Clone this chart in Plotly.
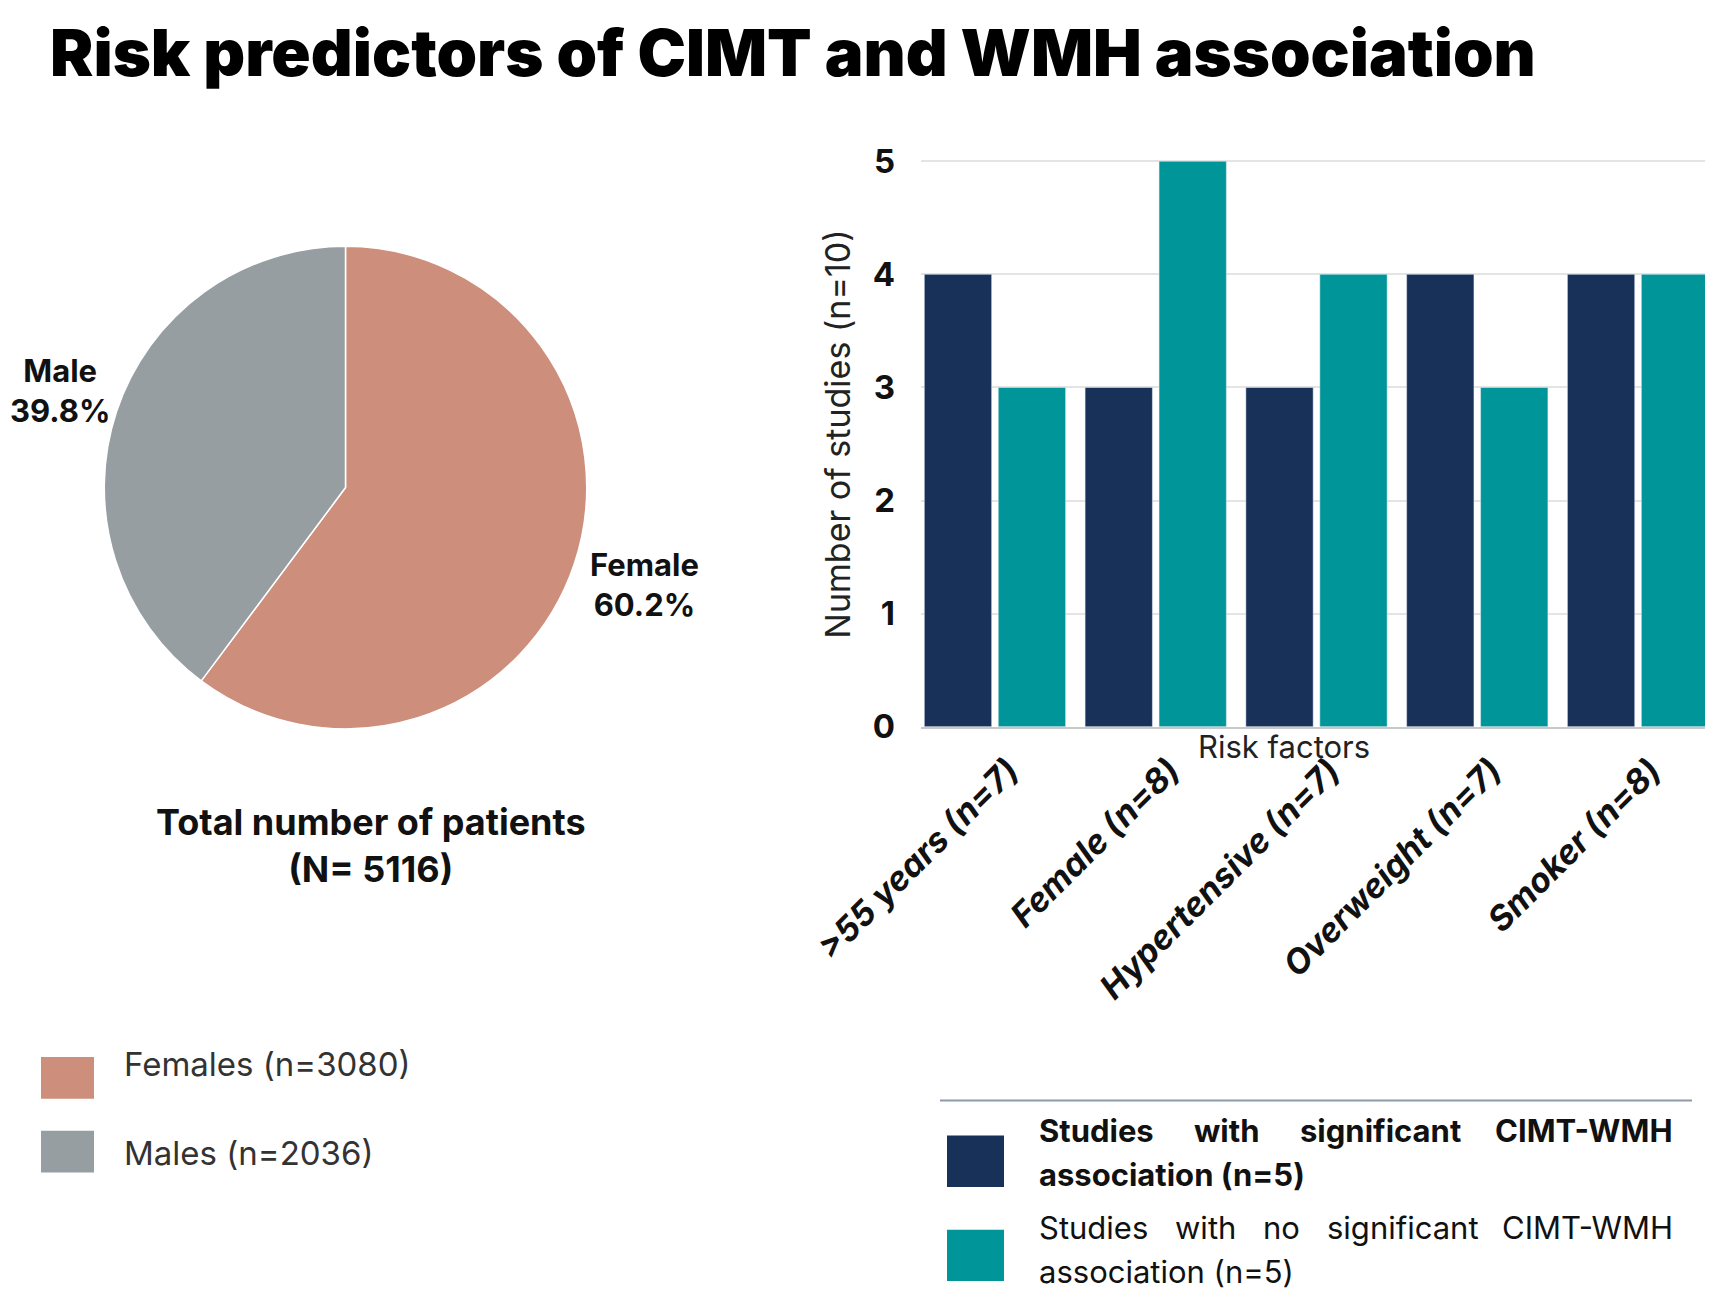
import plotly.graph_objects as go

W, H = 1713, 1297

# pie data
sexes = ['Female', 'Male']
patients = [3080, 2036]
sex_colors = ['#CD8E7B', '#979EA2']
sex_legend = ['Females (n=3080)', 'Males (n=2036)']

# bar data
factors = ['>55 years (n=7)', 'Female (n=8)', 'Hypertensive (n=7)',
           'Overweight (n=7)', 'Smoker (n=8)']
significant = [4, 3, 3, 4, 4]
not_significant = [3, 5, 4, 3, 4]

NAVY = '#173158'
TEAL = '#009599'
FONT = 'Inter, Open Sans, sans-serif'


def px(x):
    return x / W


def py(y):
    return 1 - y / H


def label(x, y, text, size, weight=400, color='#111', xa='center', ya='middle', **kw):
    return dict(x=px(x), y=py(y), xref='paper', yref='paper', showarrow=False,
                xanchor=xa, yanchor=ya, text=text,
                font=dict(size=size, weight=weight, color=color), **kw)


fig = go.Figure()

fig.add_trace(go.Pie(
    labels=sexes, values=patients, sort=False, direction='clockwise',
    marker=dict(colors=sex_colors, line=dict(color='white', width=1.5)),
    textinfo='none', showlegend=False,
    domain=dict(x=[px(89), px(586)], y=[py(724), py(227)]),
))

fig.add_trace(go.Bar(x=factors, y=significant, marker_color=NAVY,
                     name='Studies with significant CIMT-WMH association (n=5)',
                     showlegend=False))
fig.add_trace(go.Bar(x=factors, y=not_significant, marker_color=TEAL,
                     name='Studies with no significant CIMT-WMH association (n=5)',
                     showlegend=False))

fig.update_layout(
    width=W, height=H, margin=dict(l=0, r=0, t=0, b=0),
    paper_bgcolor='white', plot_bgcolor='white',
    font=dict(family=FONT, color='#111'),
    barmode='group', bargap=0.08, bargroupgap=0.09,
    xaxis=dict(domain=[px(913), px(1704)], type='category',
               range=[-0.46, 4.46], showticklabels=False,
               showline=True, linecolor='#C8C8C8', linewidth=2, ticks=''),
    yaxis=dict(domain=[py(722), py(137)], range=[0, 5.02], dtick=1,
               showgrid=True, gridcolor='#E4E4E4', gridwidth=2,
               zeroline=False, tickfont=dict(size=33, weight=700, color='#111'),
               ticklabelstandoff=25),
)

ann = []
ann.append(label(40, 27, 'Risk predictors of CIMT and WMH association', 65,
                 weight=900, color='#000', xa='left'))

# rotated category labels, placed on the bar x axis
for f in factors:
    ann.append(dict(x=f, y=0, xref='x', yref='y', showarrow=False,
                    xanchor='right', yanchor='top', textangle=-45,
                    xshift=34, yshift=-20, text=f,
                    font=dict(size=34, weight=700, style='italic', color='#111')))

# pie labels
total = sum(patients)
for name, v, (lx, ly) in zip(sexes, patients, [(636, 575), (52, 375)]):
    ann.append(label(lx, ly, f'{name}<br>{v / total * 100:.1f}%', 31, weight=700,
                     align='center'))

ann.append(label(363, 844, f'Total number of patients<br>(N= {total})', 36,
                 weight=700, align='center'))

# left legend
shapes = []
for i, (lab, col) in enumerate(zip(sex_legend, sex_colors)):
    y0 = 1062 + i * 76
    shapes.append(dict(type='rect', xref='paper', yref='paper',
                       x0=px(33), x1=px(86), y0=py(y0), y1=py(y0 + 43),
                       fillcolor=col, line_width=0))
    ann.append(label(114, 1069 + i * 92, lab, 33, color='#333', xa='left'))

# bar axis titles
ann.append(label(830, 421, 'Number of studies (n=10)', 34, color='#222',
                 textangle=-90))
ann.append(label(1276, 742, 'Risk factors', 31, color='#222'))

# right legend (justified lines, one word at a time)
shapes.append(dict(type='line', xref='paper', yref='paper',
                   x0=px(932), x1=px(1684), y0=py(1107), y1=py(1107),
                   line=dict(color='#8C9BAA', width=2)))
legend_rows = [
    (NAVY, 1143, 700,
     [('Studies', 1029), ('with', 1184), ('significant', 1290), ('CIMT-WMH', None)],
     'association (n=5)', 1138, 1183),
    (TEAL, 1240, 400,
     [('Studies', 1029), ('with', 1165), ('no', 1253), ('significant', 1317), ('CIMT-WMH', None)],
     'association (n=5)', 1238, 1283),
]
for col, sy, wt, words, line2, y1, y2 in legend_rows:
    shapes.append(dict(type='rect', xref='paper', yref='paper',
                       x0=px(939), x1=px(996), y0=py(sy), y1=py(sy + 53),
                       fillcolor=col, line_width=0))
    for w, wx in words:
        if wx is None:
            ann.append(label(1667, y1, w, 31, weight=wt, xa='right'))
        else:
            ann.append(label(wx, y1, w, 31, weight=wt, xa='left'))
    ann.append(label(1029, y2, line2, 31, weight=wt, xa='left'))

fig.update_layout(annotations=ann, shapes=shapes)

fig.write_html('out.html')
